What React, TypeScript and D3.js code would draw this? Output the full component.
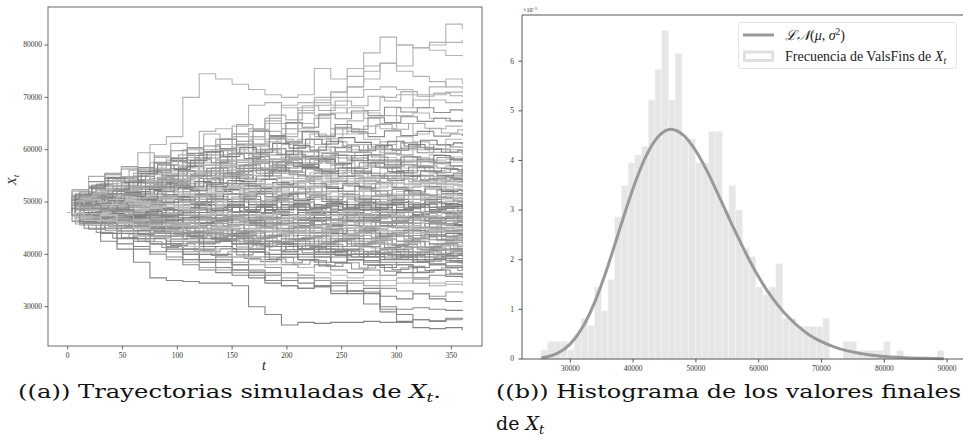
import React from 'react';
import * as d3 from 'd3';

// observation days of the trajectories (four staggered grids)
const daysA = [0, 15, 30, 45, 60, 75, 90, 105, 120, 135, 150, 165, 180, 195, 210, 225, 240, 255, 270, 285, 300, 315, 330, 345, 360];
const daysB = [0, 7, 22, 37, 52, 67, 82, 97, 112, 127, 142, 157, 172, 187, 202, 217, 232, 247, 262, 277, 292, 307, 322, 337, 352, 360];
const daysC = [0, 11, 26, 41, 56, 71, 86, 101, 116, 131, 146, 161, 176, 191, 206, 221, 236, 251, 266, 281, 296, 311, 326, 341, 356, 360];
const daysD = [0, 4, 19, 34, 49, 64, 79, 94, 109, 124, 139, 154, 169, 184, 199, 214, 229, 244, 259, 274, 289, 304, 319, 334, 349, 360];

// trajectories on daysA, values in thousands
const highPaths = [
  [48, 50.5, 52, 54.5, 55.5, 61, 62.5, 70, 74.5, 73.5, 72.5, 71.5, 70.5, 70, 70.5, 75.5, 73.5, 74, 78.5, 81.5, 80, 79.5, 80.5, 84, 83],
  [48, 49, 51, 53, 52.5, 54, 57, 58.5, 59.5, 60, 62.5, 64, 66, 65, 68, 69.5, 70, 75.5, 76, 76.5, 80, 79.5, 79, 78, 77.8],
  [48, 47, 49, 51, 50, 53, 55, 56, 57.5, 59, 61, 63.5, 65, 64, 67, 68.5, 71, 72, 75, 76.5, 76, 79.5, 80, 80.5, 81],
  [48, 51, 53.5, 54, 55, 56, 58.5, 60, 63.5, 64, 63, 62.5, 66, 68.5, 69, 70, 71, 72, 73.5, 76.5, 75, 74, 73, 72, 71.5],
  [48, 49.5, 50.5, 52, 55.5, 56.5, 56, 57.5, 59, 62, 64.5, 68.5, 69, 68, 67.5, 69, 68.5, 70, 71.5, 72, 71.5, 70.5, 70.5, 71, 71.2],
  [48, 50, 51.5, 53, 54, 57.5, 58, 57.5, 60, 61, 63, 64, 65.5, 65, 67, 66.5, 67, 68, 67.5, 70, 70.5, 68, 69.5, 69, 69.5],
  [48, 48.5, 50, 51, 52, 53, 56, 58.5, 59, 62, 63, 62.5, 61.5, 63, 65, 66, 64, 65.5, 67, 66.5, 68, 69.5, 72, 73.5, 72.5],
  [48, 46.5, 48, 50.5, 52, 54, 53.5, 56, 57, 58, 60.5, 62, 63.5, 62.5, 64, 66, 68, 67, 66, 65, 66.5, 67, 66, 65.5, 66],
  [48, 49, 48.5, 50, 51.5, 52, 55, 56, 55.5, 57, 58, 61, 62, 64, 63.5, 62.5, 64, 63, 64.5, 64, 65, 63, 64, 64.5, 64.5],
  [48, 47.5, 49.5, 50.5, 49, 51, 53, 53.5, 55, 57, 56, 58.5, 59.5, 61, 62, 61, 63, 63.5, 62, 61, 62.5, 61.5, 61, 62, 62],
  [48, 50.5, 49.5, 51.5, 53, 54.5, 55, 54.5, 57, 58, 60, 59.5, 60, 59, 60.5, 62, 61.5, 60, 61, 59.5, 60, 60.5, 59.5, 60, 60],
  [48, 49, 51, 50, 51.5, 53, 52.5, 55.5, 56, 55, 57, 57.5, 59, 58, 58.5, 60, 59.5, 61, 60, 61.5, 59, 60, 61, 59.5, 59],
];

const upperPaths = [
  [48, 50, 51.5, 53, 52.5, 54, 53.5, 55, 54.5, 56, 55, 56.5, 57.5, 56.5, 57, 56, 57, 56.5, 55.5, 56.5, 55.5, 56, 55.5, 55.6, 55.3],
  [48, 48.5, 50, 51.5, 51, 52.5, 53.5, 53, 54.5, 55.5, 55, 56.5, 56, 57, 56.5, 57.5, 57, 56, 57, 56.5, 55.5, 56.5, 56, 56.2, 56],
  [48, 51, 52.5, 52, 54, 55.5, 55, 56.5, 56, 57.5, 57, 58, 57.5, 58.5, 57.5, 58, 57, 58, 57, 57.5, 56.5, 57, 56.5, 56.9, 56.7],
  [48, 49.5, 51, 50.5, 52, 53.5, 53, 54.5, 55.5, 55, 56.5, 57.5, 56.5, 58, 57, 58, 59, 58, 57.5, 58.5, 57.5, 58, 57.5, 57.6, 57.3],
  [48, 50, 49.5, 51, 52.5, 54, 55.5, 55, 57, 56.5, 58, 57.5, 59, 58.5, 59.5, 58.5, 59, 58, 59, 58.5, 58, 58.5, 58, 58.2, 58],
  [48, 51.5, 53, 54.5, 54, 56, 55.5, 57, 56.5, 58, 59.5, 59, 60, 59, 60.5, 59.5, 60.5, 59.5, 59, 60, 59, 58.5, 59, 58.6, 58.7],
  [48, 47.5, 48.5, 49.5, 48.5, 50, 49, 50.5, 49.5, 50, 51, 50, 51, 50.5, 51.5, 50.5, 51, 50, 51, 50.5, 51.5, 50.5, 51, 50.8, 50.5],
  [48, 50, 51, 52.5, 51.5, 53, 52, 53.5, 52.5, 52, 53, 52, 52.5, 51.5, 52.5, 51.5, 52, 51, 52, 51.5, 50.5, 51.5, 51, 51.2, 51],
  [48, 48.5, 47.5, 48.5, 49.5, 50.5, 49.5, 50, 51, 50, 51, 52, 51, 51.5, 52.5, 51.5, 52, 51, 52, 51, 52, 51.5, 51, 51.7, 51.5],
  [48, 49.5, 50.5, 51.5, 52.5, 52, 53, 54, 53, 54.5, 53.5, 54, 53, 54, 53, 54.5, 53.5, 53, 54, 53, 52.5, 53, 52.5, 52.2, 52],
  [48, 47, 48, 49, 48.5, 49.5, 50.5, 51.5, 50.5, 51.5, 52.5, 51.5, 52.5, 53.5, 52.5, 53, 54, 53, 52.5, 53.5, 52.5, 53, 52.8, 52.5, 52.5],
  [48, 50.5, 52, 51, 52.5, 54, 53, 54.5, 56, 55, 55.5, 54.5, 55.5, 54.5, 55, 54, 55, 54, 53.5, 54.5, 53.5, 54, 53, 53.3, 53],
  [48, 49, 48.5, 50, 51, 50.5, 52, 51.5, 52.5, 53.5, 52.5, 53.5, 54.5, 53.5, 54, 53, 54, 55, 54, 53.5, 54.5, 53.5, 53.8, 53.4, 53.3],
  [48, 48, 49.5, 49, 50.5, 49.5, 51, 52, 51, 52.5, 53.5, 53, 52, 53, 54, 55, 54, 54.5, 53.5, 54.5, 55, 54, 53.5, 53.9, 53.7],
  [48, 51, 50, 51.5, 53, 52.5, 54, 55, 54.5, 56, 55, 56.5, 55.5, 56, 55, 55.5, 54.5, 55, 54, 55, 54.5, 53.5, 54.5, 54.2, 54],
  [48, 47.5, 49, 50.5, 50, 51.5, 51, 52.5, 53.5, 53, 54, 53.5, 54.5, 55.5, 54.5, 55, 56, 55, 54.5, 55.5, 54.5, 55, 54.5, 54.7, 54.4],
  [48, 49.5, 51, 52, 51.5, 53, 54, 53, 54.5, 55.5, 54.5, 56, 55, 56.5, 57, 56, 55.5, 56.5, 55.5, 55, 56, 55, 54.5, 55, 54.8],
];

const centralPaths = [
  [48, 49, 48, 47, 47.5, 46.5, 47, 46, 47.5, 46.5, 47, 46, 46.5, 45.5, 46, 45, 46, 45.5, 46.5, 45.5, 46, 45, 45.8, 45.5, 45.4],
  [48, 47.5, 49, 48, 49, 48.5, 47.5, 48, 47, 48, 47, 47.5, 46.5, 47, 46, 47, 46.5, 45.5, 46.5, 46, 45.5, 46.5, 46, 45.7, 45.8],
  [48, 50, 49, 50.5, 49.5, 50, 49, 49.5, 48.5, 48, 49, 48, 48.5, 47.5, 48, 47, 47.5, 46.5, 47, 46, 47, 46.5, 46, 46.4, 46.2],
  [48, 46, 47, 46.5, 48, 47, 48.5, 47.5, 46.5, 47, 48, 47, 46, 47.5, 46.5, 45.5, 46.5, 47.5, 46.5, 47, 46, 47, 46.5, 46.8, 46.5],
  [48, 48.5, 50, 51, 50, 51.5, 50.5, 51, 50, 49.5, 50.5, 49.5, 50, 49, 48.5, 49, 48, 48.5, 47.5, 48, 47, 47.5, 46.8, 47, 46.8],
  [48, 47, 46, 45.5, 46.5, 45, 46, 47, 46.5, 47.5, 46.5, 47, 48, 47, 47.5, 46.5, 47.5, 48, 47, 47.5, 46.5, 47.5, 47, 47.3, 47.2],
  [48, 49.5, 51, 50, 51.5, 52, 51, 52.5, 51.5, 50.5, 51, 50, 50.5, 49.5, 50, 49, 49.5, 48.5, 49, 48, 48.5, 47.5, 48, 47.7, 47.5],
  [48, 48, 47, 48.5, 47.5, 49, 48, 48.5, 47.5, 48, 49, 48, 48.5, 47.5, 48.5, 47.5, 48, 47, 48.5, 47.5, 48, 47.5, 48.2, 47.8, 47.9],
  [48, 46.5, 45.5, 44.5, 45.5, 44, 45, 46, 45.5, 46.5, 45.5, 46.5, 47, 46, 47, 48, 47.5, 46.5, 47.5, 48.5, 48, 47.5, 48.5, 48, 48.3],
  [48, 49, 50.5, 52, 53, 52.5, 53.5, 52.5, 53, 52, 51.5, 52, 51, 51.5, 50.5, 51, 50, 50.5, 49.5, 50, 49, 49.5, 48.5, 48.8, 48.6],
  [48, 47.5, 48.5, 47.5, 48.5, 49.5, 48.5, 49, 48, 49, 50, 49, 48.5, 49.5, 48.5, 49, 50, 49, 48.5, 49.5, 48.5, 49.5, 49, 49.2, 49],
  [48, 50, 51.5, 50.5, 52, 51, 50, 51, 50, 49.5, 50.5, 49.5, 48.5, 49.5, 50.5, 49.5, 50, 49, 50, 49.5, 48.5, 49.5, 49, 49.5, 49.3],
  [48, 46, 47.5, 46.5, 47.5, 48.5, 47.5, 48.5, 49.5, 48.5, 49, 48, 49, 50, 49, 49.5, 48.5, 49.5, 50.5, 49.5, 50, 49, 49.8, 49.5, 49.7],
  [48, 49, 48, 49.5, 50.5, 49.5, 51, 50, 50.5, 49.5, 50.5, 51.5, 50.5, 51, 50, 51, 50, 50.5, 49.5, 50.5, 49.5, 50.5, 50, 50.2, 50],
  [48, 47, 45.5, 46, 44.5, 45, 43.5, 44, 42.5, 43, 42, 42.5, 41.5, 42, 41, 41.5, 40.5, 41, 40, 41, 40.5, 40, 40.8, 40.2, 40],
  [48, 49.5, 50, 48.5, 47, 47.5, 46, 45, 45.5, 44, 44.5, 43, 43.5, 42.5, 43, 42, 42.5, 41.5, 42, 41, 41.5, 40.5, 41, 40.8, 40.5],
  [48, 46.5, 47, 45.5, 46, 44.5, 45, 44, 43.5, 44.5, 43, 43.5, 42.5, 43, 42, 42.5, 41.5, 42.5, 41.5, 42, 41, 41.5, 41.2, 41, 41],
  [48, 48.5, 47.5, 48, 46.5, 47, 45.5, 46, 45, 44.5, 45.5, 44, 44.5, 43.5, 44, 43, 43.5, 42.5, 43, 42, 42.5, 41.5, 42, 41.8, 41.5],
  [48, 50, 51, 50, 49, 49.5, 48, 48.5, 47, 46.5, 47, 45.5, 46, 45, 45.5, 44, 44.5, 43.5, 44, 43, 43.5, 42.5, 42, 42.3, 42],
  [48, 47.5, 48.5, 47, 47.5, 46, 46.5, 45.5, 46, 45, 44, 44.5, 43.5, 44, 43, 43.5, 42.5, 43, 44, 43, 42.5, 43, 42.8, 42.6, 42.5],
  [48, 49, 47.5, 48.5, 49, 47.5, 48, 46.5, 47, 46, 46.5, 45, 45.5, 44.5, 45, 44, 44.5, 43.5, 44, 43, 43.5, 44, 43.5, 43.2, 43],
  [48, 46, 45, 46.5, 45.5, 44, 44.5, 43, 44, 43.5, 42.5, 43, 42, 43, 42.5, 43.5, 43, 42, 43, 44, 43.5, 43, 43.8, 43.5, 43.3],
  [48, 48, 49.5, 48.5, 47, 47.5, 46.5, 47, 46, 46.5, 45.5, 46, 45, 45.5, 44.5, 45, 44, 45, 44.5, 43.5, 44, 44.5, 43.5, 44, 43.7],
  [48, 50.5, 49.5, 51, 50, 49, 49.5, 48.5, 47.5, 48, 47, 47.5, 46.5, 47, 46, 45.5, 46, 45, 45.5, 44.5, 45, 44, 44.5, 44.2, 44],
  [48, 47, 46.5, 47.5, 46.5, 45.5, 46, 45.5, 46.5, 45, 45.5, 44.5, 45, 44, 45, 44.5, 43.5, 44, 45, 44.5, 44, 45, 44.5, 44.6, 44.3],
  [48, 49.5, 48.5, 47.5, 48, 47, 47.5, 48, 47, 46.5, 47.5, 46.5, 46, 45.5, 46, 45, 45.5, 44.5, 45, 45.5, 44.5, 45, 44.8, 44.5, 44.6],
  [48, 46.5, 47.5, 46, 45, 45.5, 44.5, 45.5, 44.5, 45, 46, 45, 44.5, 45.5, 44.5, 45, 46, 45, 45.5, 44.5, 45.5, 45, 44.8, 45.2, 45],
];

const lowPaths = [
  [48, 46, 44, 42, 41.5, 40.5, 41, 40, 38.5, 39, 38, 39.5, 39, 38, 37.5, 38, 37, 36.5, 37, 36, 36.5, 35.5, 36, 35.8, 35.5],
  [48, 49.5, 48, 46.5, 45.5, 44, 44.5, 43, 42, 42.5, 41, 40.5, 41.5, 40, 39.5, 40, 38.5, 39, 38, 37.5, 38, 36.5, 37, 36.2, 36],
  [48, 47, 48.5, 47, 45, 45.5, 44, 43.5, 44, 42.5, 42, 41, 41.5, 40.5, 41, 39.5, 40, 39, 39.5, 38.5, 38, 37.5, 38, 37.5, 37],
  [48, 50, 49, 48, 47.5, 46.5, 47, 45.5, 44.5, 45, 43.5, 44, 42.5, 42, 41, 41.5, 40.5, 40, 39.5, 40, 39, 38.5, 38, 37.8, 37.5],
  [48, 46.5, 45.5, 46, 44, 43.5, 42, 42.5, 41, 41.5, 40.5, 41, 40, 39.5, 39, 39.5, 38.5, 39, 38.8, 38, 38.5, 39, 38.2, 38.5, 38],
  [48, 48.5, 47, 45, 44.5, 45, 43.5, 44, 43, 42.5, 43, 42, 41.5, 40.5, 40, 41, 40.5, 39.5, 40, 39, 39.5, 38.5, 39, 38.8, 38.5],
  [48, 47.5, 46, 44.5, 43, 43.5, 42, 41, 41.5, 40, 39.5, 40.5, 39.5, 40, 39, 38.5, 39.5, 39, 38.5, 40, 39.5, 39, 39.5, 39.2, 39],
  [48, 49, 48, 47.5, 46, 46.5, 45, 44, 44.5, 43, 43.5, 42, 42.5, 41.5, 41, 40.5, 41, 40, 40.5, 39.5, 40, 39.5, 40, 39.8, 39.5],
  [48, 45, 42.5, 41, 38.5, 35.5, 35, 34.8, 34.5, 34.5, 34, 30, 28.5, 26.5, 27, 26.8, 27, 27, 27.2, 27, 27.2, 27.5, 27.3, 27.5, 27.5],
  [48, 47, 46, 44.5, 43, 42, 41.5, 40, 39, 38.5, 37, 36.5, 35, 34, 33.5, 34, 33, 32.5, 30.5, 29, 27, 26, 25.8, 26, 25.5],
  [48, 46, 44, 43, 41, 40, 39.5, 38, 37, 37.5, 36, 35.5, 36, 35, 34.5, 33.8, 34, 33, 32.5, 30, 29.5, 29.8, 29.5, 29.3, 29.4],
  [48, 47.5, 45, 44, 42.5, 42, 40.5, 39, 38.5, 36.5, 37, 36, 34.5, 34, 33.5, 33.8, 32.5, 33, 33.5, 32, 31.5, 32.5, 31.5, 31, 31],
  [48, 49, 47, 46, 44.5, 43, 42.5, 41, 40, 39.5, 38, 37, 36.5, 35, 35.5, 34, 34.5, 33, 32.8, 29.5, 28.5, 27.5, 27.2, 27.8, 27.5],
  [48, 46.5, 45.5, 45, 43.5, 42, 41.5, 40.5, 40.8, 39, 38.5, 38, 37.5, 36.5, 36, 35, 34.5, 35, 34, 33.5, 33, 32.5, 32, 32.8, 32.5],
  [48, 49, 47.5, 46, 45, 44, 43, 41.5, 40.5, 41, 39.5, 39, 38, 38.5, 37.5, 36.5, 36, 35.5, 36, 35, 34.5, 35.2, 34.5, 34.8, 34.5],
  [48, 47, 45.5, 44.5, 43.5, 40, 39, 38.5, 37.5, 37, 36.5, 36.8, 36, 35.5, 36, 35.5, 35, 34.5, 35, 34, 35.5, 34.5, 34, 34.3, 34],
];

// trajectories on daysB
const bandPathsB = [
  [48, 46.8, 45.9, 46.4, 45.1, 44.6, 45.3, 43.8, 43.2, 43.9, 42.7, 42.1, 41.4, 42.3, 41.6, 40.9, 41.8, 40.6, 40.1, 40.7, 39.8, 40.4, 39.5, 39.9, 39.2, 39],
  [48, 49.1, 47.6, 47.9, 46.7, 46.2, 44.9, 45.4, 44.3, 44.8, 43.6, 44.1, 43.2, 42.4, 42.9, 41.7, 42.3, 41.5, 42.1, 41.2, 40.6, 41.3, 40.8, 40.2, 40.7, 40.5],
  [48, 47.3, 48.1, 46.5, 45.8, 46.4, 45.2, 44.5, 45.1, 44, 43.4, 44.2, 43.1, 43.6, 42.8, 43.3, 42.2, 42.9, 41.8, 42.4, 41.6, 42.2, 41.3, 41.9, 41.4, 41.5],
  [48, 50.2, 49.3, 48.4, 49.1, 47.8, 47.2, 46.5, 47.1, 46, 45.4, 46.1, 45.2, 44.6, 45.3, 44.1, 44.7, 43.6, 44.2, 43.3, 43.8, 42.9, 43.5, 42.6, 42.9, 42.5],
  [48, 46.2, 47, 45.6, 46.3, 45.1, 45.8, 44.6, 45.3, 44.2, 44.9, 43.8, 44.5, 43.4, 44.1, 43.2, 43.9, 42.8, 43.6, 42.7, 43.4, 42.6, 43.3, 42.8, 43.2, 43],
  [48, 48.7, 47.4, 48.2, 46.9, 47.6, 46.4, 47.1, 45.9, 46.6, 45.5, 46.2, 45.1, 45.7, 44.6, 45.4, 44.3, 45, 44.1, 44.8, 43.9, 44.5, 43.7, 44.3, 43.6, 43.8],
  [48, 45.8, 46.6, 45.3, 46.1, 44.7, 45.5, 44.2, 45, 43.9, 44.7, 43.6, 44.4, 43.5, 44.3, 45.1, 44.2, 45, 44.1, 44.9, 43.9, 44.8, 44.1, 44.9, 44.3, 44.5],
  [48, 49.6, 48.6, 49.4, 48.2, 49, 47.7, 48.4, 47.2, 47.9, 46.8, 47.5, 46.4, 47.1, 46, 46.8, 45.7, 46.4, 45.4, 46.1, 45.2, 45.9, 44.9, 45.6, 44.8, 45],
  [48, 47.1, 46.3, 47.2, 46.5, 45.7, 46.6, 45.9, 45.2, 46.1, 45.4, 46.3, 45.6, 46.5, 45.8, 46.7, 45.9, 46.8, 46, 45.3, 46.2, 45.5, 46.4, 45.7, 46.1, 45.8],
  [48, 50.8, 51.5, 50.4, 51.2, 49.9, 50.6, 49.4, 50.1, 48.8, 49.5, 48.3, 49, 47.9, 48.6, 47.5, 48.2, 47.1, 47.8, 46.8, 47.4, 46.5, 47.2, 46.4, 46.9, 46.3],
  [48, 47.6, 48.5, 47.7, 48.6, 47.8, 48.7, 47.9, 48.8, 48, 47.2, 48.1, 47.3, 48.2, 47.4, 48.3, 47.5, 48.4, 47.6, 46.8, 47.7, 46.9, 47.8, 47.1, 47.5, 47],
  [48, 46.4, 45.5, 46.3, 45.1, 45.9, 44.8, 45.7, 46.6, 45.8, 46.7, 47.6, 46.8, 47.7, 46.9, 47.8, 48.7, 47.9, 48.8, 48, 47.2, 48.1, 47.3, 48.2, 47.5, 47.6],
  [48, 49.3, 50.4, 49.5, 50.6, 49.7, 50.8, 49.9, 51, 50.1, 49.2, 50.2, 49.3, 50.3, 49.4, 48.5, 49.5, 48.6, 49.6, 48.7, 49.7, 48.8, 47.9, 48.9, 48.1, 48.2],
  [48, 47.7, 46.9, 47.8, 47, 47.9, 48.8, 48, 48.9, 48.1, 49, 48.2, 49.1, 48.3, 49.2, 48.4, 49.3, 48.5, 49.4, 48.6, 49.5, 48.7, 49.6, 48.8, 49.1, 48.8],
  [48, 50.1, 51.8, 52.6, 51.7, 52.8, 51.9, 53, 52.1, 51.2, 52.2, 51.3, 52.3, 51.4, 50.5, 51.5, 50.6, 51.6, 50.7, 49.8, 50.8, 49.9, 50.9, 50, 49.6, 49.4],
  [48, 48.5, 49.4, 48.6, 49.5, 50.4, 49.6, 50.5, 49.7, 50.6, 51.5, 50.7, 51.6, 50.8, 51.7, 50.9, 50.1, 51, 50.2, 51.1, 50.3, 51.2, 50.4, 50.9, 50.2, 50],
  [48, 46.9, 47.8, 48.7, 47.9, 48.8, 49.7, 48.9, 49.8, 49, 49.9, 50.8, 50, 50.9, 50.1, 51, 51.9, 51.1, 52, 51.2, 50.4, 51.3, 50.5, 51.4, 50.6, 50.7],
  [48, 50.5, 49.6, 50.7, 51.8, 50.9, 52, 51.1, 52.2, 53.3, 52.4, 53.5, 52.6, 53.7, 52.8, 51.9, 52.9, 52, 53, 52.1, 51.2, 52.2, 51.3, 52.3, 51.6, 51.4],
  [48, 48.9, 50, 49.1, 50.2, 51.3, 50.4, 51.5, 52.6, 51.7, 52.8, 51.9, 53, 52.1, 53.2, 54.3, 53.4, 54.5, 53.6, 52.7, 53.7, 52.8, 53.8, 52.9, 52.4, 52.2],
  [48, 47.3, 48.4, 49.5, 50.6, 49.7, 50.8, 51.9, 51, 52.1, 53.2, 52.3, 53.4, 52.5, 53.6, 52.7, 53.8, 54.9, 54, 55.1, 54.2, 53.3, 54.3, 53.4, 53.2, 53],
  [48, 51.2, 52.5, 51.6, 52.7, 53.8, 52.9, 54, 55.1, 54.2, 55.3, 56.4, 55.5, 56.6, 55.7, 54.8, 55.8, 54.9, 55.9, 55, 54.1, 55.1, 54.2, 54.8, 54.3, 54],
  [48, 49.7, 48.8, 50.3, 51.4, 50.5, 52, 53.1, 52.2, 53.7, 54.8, 53.9, 55, 56.1, 55.2, 56.3, 55.4, 56.5, 55.6, 56.7, 55.8, 54.9, 55.9, 55.1, 55.4, 55],
  [48, 50.3, 51.6, 53, 52.1, 53.6, 54.7, 53.8, 55.3, 56.4, 55.5, 57, 58.1, 57.2, 58.3, 57.4, 58.5, 57.6, 56.7, 57.7, 56.8, 57.8, 56.9, 56.5, 56.8, 56.3],
  [48, 49.2, 50.7, 52.2, 51.3, 52.8, 54.3, 53.4, 54.9, 56.4, 55.5, 57, 56.1, 57.6, 59.1, 58.2, 59.3, 58.4, 59.5, 58.6, 57.7, 58.7, 57.8, 58.5, 58, 57.8],
  [48, 51.5, 53.2, 54.6, 53.7, 55.4, 57.1, 56.2, 57.9, 59.6, 58.7, 60.4, 59.5, 61.2, 60.3, 62, 61.1, 62.3, 61.4, 60.5, 61.6, 60.7, 61.8, 60.9, 61.3, 61],
];

// trajectories on daysC
const bandPathsC = [
  [48, 45.6, 44.2, 43.1, 43.9, 42.4, 41.3, 42, 40.6, 39.8, 40.5, 39.2, 38.6, 39.4, 38.1, 38.8, 37.7, 38.4, 37.4, 38, 37.1, 37.7, 36.9, 37.4, 36.9, 36.8],
  [48, 49.2, 47.5, 46.1, 46.8, 45.3, 44.4, 45.1, 43.7, 42.9, 43.6, 42.3, 41.6, 42.2, 40.9, 41.5, 40.3, 40.9, 39.6, 40.2, 39.1, 39.8, 38.7, 39.3, 38.4, 38.2],
  [48, 46.9, 47.6, 46.2, 45.4, 46, 44.6, 43.9, 44.5, 43.2, 43.9, 42.6, 43.2, 41.9, 42.5, 41.3, 41.9, 40.8, 41.4, 40.3, 40.9, 39.9, 40.5, 39.6, 40, 39.7],
  [48, 50.1, 49, 49.7, 48.3, 47.4, 48, 46.6, 45.8, 46.4, 45, 45.6, 44.3, 44.9, 43.6, 44.2, 43, 43.6, 42.5, 43.1, 41.9, 42.5, 41.3, 41.8, 41, 40.8],
  [48, 47.2, 45.9, 46.7, 45.4, 46.1, 44.8, 45.5, 44.2, 44.9, 43.7, 44.4, 43.2, 43.9, 42.8, 43.5, 42.4, 43.1, 42, 42.7, 41.7, 42.4, 41.5, 42.1, 41.6, 41.8],
  [48, 48.4, 49.3, 48.1, 47.2, 47.9, 46.7, 45.9, 46.6, 45.4, 46.1, 44.9, 45.6, 44.5, 45.2, 44.1, 44.8, 43.7, 44.4, 43.4, 44.1, 43.1, 43.8, 42.9, 43.2, 42.8],
  [48, 46.4, 47.3, 46, 46.8, 45.6, 46.4, 45.2, 46, 44.9, 45.7, 44.6, 45.4, 44.3, 45.1, 44.1, 44.9, 43.9, 44.7, 43.7, 44.5, 43.6, 44.3, 43.4, 43.8, 43.5],
  [48, 50.6, 51.7, 50.5, 49.4, 50.1, 48.9, 47.9, 48.6, 47.5, 48.2, 47.1, 47.8, 46.8, 46, 46.7, 45.7, 46.4, 45.5, 46.2, 45.2, 44.5, 45.1, 44.3, 44.7, 44.2],
  [48, 47.4, 48.3, 47.1, 47.9, 46.8, 47.6, 46.5, 47.3, 46.3, 47.1, 46.1, 46.9, 45.9, 46.7, 45.7, 46.5, 45.6, 46.3, 45.4, 46.1, 45.2, 45.9, 45.1, 45.3, 44.9],
  [48, 45.9, 46.8, 45.5, 46.4, 47.3, 46.1, 47, 45.9, 46.8, 45.7, 46.6, 45.5, 46.4, 45.4, 46.3, 45.3, 46.2, 45.2, 46.1, 45.1, 46, 45.2, 45.9, 45.3, 45.5],
  [48, 49.4, 48.2, 49.1, 47.9, 48.8, 47.7, 48.6, 47.5, 48.4, 47.3, 48.2, 47.1, 48, 47, 47.8, 46.8, 47.6, 46.7, 47.5, 46.5, 47.3, 46.4, 47, 46.2, 46],
  [48, 46.7, 45.8, 46.6, 45.4, 46.3, 45.2, 46.1, 47, 45.9, 46.8, 45.8, 46.7, 47.6, 46.6, 47.5, 46.5, 47.4, 46.4, 47.3, 46.3, 47.2, 46.3, 47.1, 46.5, 46.6],
  [48, 48.9, 50.1, 49.2, 50.2, 49.1, 50, 48.9, 49.8, 48.7, 49.6, 48.5, 49.4, 48.4, 49.3, 48.2, 49.1, 48.1, 49, 48, 47.2, 48, 47.1, 47.9, 47.2, 47.3],
  [48, 47.1, 47.9, 46.9, 47.8, 48.7, 47.7, 48.6, 47.6, 48.5, 47.5, 48.4, 47.5, 48.4, 47.4, 48.3, 47.4, 48.3, 47.3, 48.2, 47.3, 48.2, 47.4, 48.3, 47.7, 47.9],
  [48, 49.9, 51.2, 50.2, 51.3, 50.3, 51.4, 50.4, 51.5, 50.5, 49.5, 50.5, 49.6, 50.6, 49.7, 48.8, 49.8, 48.9, 49.9, 49, 48.1, 49.1, 48.2, 49, 48.3, 48.5],
  [48, 46.2, 47.1, 48.1, 47.2, 48.2, 47.3, 48.3, 49.3, 48.4, 49.4, 48.5, 49.5, 48.6, 49.6, 48.7, 49.7, 48.8, 49.8, 48.9, 49.9, 49, 50, 49.2, 49.5, 49.1],
  [48, 48.7, 49.7, 48.8, 49.8, 50.8, 49.9, 50.9, 50, 51, 50.1, 51.1, 50.2, 51.2, 50.3, 51.3, 50.4, 51.4, 50.5, 49.6, 50.5, 49.6, 50.5, 49.7, 50, 49.8],
  [48, 50.9, 52.3, 51.3, 52.4, 53.5, 52.5, 53.6, 52.6, 53.7, 52.7, 51.8, 52.8, 51.9, 52.9, 52, 51.1, 52.1, 51.2, 52.2, 51.3, 50.5, 51.4, 50.6, 50.8, 50.4],
  [48, 47.6, 48.7, 49.8, 48.9, 50, 51.1, 50.2, 51.3, 50.4, 51.5, 52.6, 51.7, 52.8, 51.9, 53, 52.1, 53.2, 52.3, 51.4, 52.4, 51.5, 52.5, 51.6, 51.3, 51.1],
  [48, 49.5, 50.8, 52.1, 51.1, 52.4, 51.4, 52.7, 53.9, 52.9, 54.1, 53.1, 54.3, 53.3, 54.5, 53.5, 52.6, 53.6, 52.7, 53.7, 52.8, 51.9, 52.9, 52, 52.3, 51.9],
  [48, 47.9, 49.2, 50.5, 49.6, 50.9, 52.2, 51.3, 52.6, 51.7, 53, 54.3, 53.4, 54.7, 53.8, 55.1, 54.2, 53.3, 54.4, 53.5, 52.6, 53.6, 52.7, 53.5, 52.9, 52.7],
  [48, 50.7, 52.1, 53.5, 52.5, 53.9, 55.3, 54.3, 55.7, 54.7, 56.1, 55.1, 56.5, 55.5, 54.5, 55.6, 54.6, 55.7, 54.7, 53.8, 54.8, 53.9, 54.9, 54, 53.8, 53.6],
  [48, 49.3, 50.8, 52.3, 53.8, 52.9, 54.4, 55.9, 55, 56.5, 55.6, 57.1, 56.2, 57.7, 56.8, 58.3, 57.4, 56.5, 57.5, 56.6, 55.7, 56.7, 55.8, 56.4, 55.9, 55.6],
  [48, 51.9, 53.4, 52.5, 54.2, 55.9, 55, 56.7, 58.4, 57.5, 59.2, 58.3, 60, 59.1, 60.8, 59.9, 61.6, 60.7, 59.8, 60.8, 59.9, 61, 60.1, 59.5, 59.9, 59.6],
  [48, 50.4, 52.3, 54.2, 56.1, 55.2, 57.1, 59, 58.1, 60, 59.1, 61, 60.1, 62, 61.1, 63, 62.1, 64, 63.1, 64.8, 63.9, 65, 64.1, 63.2, 63.8, 63.5],
];

// trajectories on daysD (edges of the band)
const edgePathsD = [
  [48, 46.3, 44.8, 45.5, 43.2, 42.5, 43.1, 41.7, 42.2, 40.5, 41.1, 39.9, 40.4, 39.1, 38.4, 39, 37.8, 38.3, 37.2, 37.9, 36.8, 37.4, 36.6, 37, 36.4, 36.5],
  [48, 49.4, 47.8, 46.5, 47.2, 45.7, 44.3, 44.9, 43.4, 44, 42.6, 43.3, 41.8, 42.4, 40.9, 41.6, 40.3, 40.8, 39.5, 40.2, 39.1, 39.7, 38.6, 39.2, 38.7, 38.8],
  [48, 47.5, 46.1, 44.6, 45.3, 43.8, 44.4, 42.9, 43.6, 42.2, 42.8, 41.4, 42.1, 40.8, 41.5, 40.3, 41, 39.8, 40.6, 39.6, 40.4, 39.5, 40.3, 39.9, 40.5, 40.2],
  [48, 50.3, 48.9, 47.6, 48.1, 46.5, 45.2, 45.8, 44.4, 45, 43.7, 44.3, 43, 43.7, 42.5, 43.2, 42, 42.7, 41.6, 42.3, 41.3, 41.9, 41, 41.6, 41.1, 41.2],
  [48, 51.3, 52.8, 54.1, 53.2, 54.9, 56.3, 55.4, 56.8, 55.9, 57.3, 56.4, 57.8, 56.9, 55.9, 56.8, 55.7, 56.5, 55.4, 54.6, 55.5, 54.4, 55.1, 54.2, 54.5, 53.8],
  [48, 49.8, 51.4, 53, 52.1, 53.7, 52.8, 54.4, 56, 55.1, 56.7, 55.8, 57.4, 56.5, 58.1, 57.2, 56.3, 57.3, 56.4, 57.4, 56.5, 55.6, 56.6, 55.7, 56.2, 55.8],
  [48, 47.4, 49.2, 51, 50.1, 51.9, 53.7, 52.8, 54.6, 53.7, 55.5, 54.6, 56.4, 55.5, 57.3, 56.4, 58.2, 57.3, 58.4, 57.5, 56.6, 57.7, 56.8, 57.6, 56.9, 57],
  [48, 52.1, 53.9, 55.2, 56.8, 55.8, 57.4, 56.4, 58, 57, 58.6, 57.6, 59.2, 58.2, 59.8, 58.8, 57.8, 58.9, 57.9, 59, 58, 57.1, 58.2, 57.3, 58.1, 57.9],
  [48, 49.9, 51.5, 50.6, 52.4, 54.2, 53.3, 55.1, 56.9, 56, 57.8, 56.9, 58.7, 57.8, 59.6, 58.7, 60.5, 59.6, 61, 60.1, 59.2, 60.3, 59.4, 60.1, 59.5, 59.3],
  [48, 50.8, 53, 55.5, 54.6, 56.6, 55.7, 57.7, 59.3, 58.4, 60.2, 59.3, 61.1, 60.2, 58.6, 59.7, 58.8, 60.4, 59.5, 61, 60.1, 61.3, 60.4, 61, 60.5, 60.3],
  [48, 51.1, 52.7, 54.5, 56.3, 55.4, 57.6, 59.8, 58.9, 60.7, 59.8, 61.6, 60.7, 62.5, 61.6, 63.4, 62.5, 64.3, 63.4, 62.5, 63.6, 62.7, 63.5, 62.6, 63, 62.6],
  [48, 49.4, 51.2, 53, 54.8, 53.9, 56.1, 58.3, 57.4, 59.6, 58.7, 60.9, 60, 62.2, 61.3, 63.5, 62.6, 64.8, 63.9, 66.1, 65.2, 66.3, 65.4, 66, 65.5, 65.2],
  [48, 50.5, 52.6, 54.7, 53.8, 56.3, 58.8, 57.9, 60.4, 59.5, 62, 61.1, 63.6, 62.7, 65.2, 64.3, 66.8, 65.9, 67.4, 66.5, 68.1, 67.2, 68, 67.1, 67.6, 67.3],
  [48, 52.4, 54.9, 54, 56.7, 59.4, 58.5, 61.2, 60.3, 63, 62.1, 64.8, 63.9, 66.6, 65.7, 68.4, 67.5, 69.3, 68.4, 70.2, 69.3, 71.1, 70.2, 70.8, 70.3, 70.1],
  [48, 48.8, 50.4, 49.5, 51.3, 50.4, 52.2, 53.8, 52.9, 54.5, 53.6, 55.2, 54.3, 55.9, 57.5, 56.6, 58.2, 57.3, 58.9, 58, 57.1, 58.6, 57.7, 58.9, 58.2, 58.5],
];

// histogram of final values: 60 bins between these limits, densities in units of 1e-5
const histLo = 25300;
const histHi = 89500;
const histDensity = [
  0.18, 0.35, 0.35, 0.35, 0.18, 0.5, 0.82, 0.67, 1.45, 0.97,
  1.6, 2.86, 3.49, 3.95, 4.11, 4.28, 5.22, 5.83, 6.62, 5.22,
  6.15, 4.43, 4.43, 3.95, 3.95, 4.58, 4.58, 3.0, 3.49, 3.0,
  2.23, 2.06, 1.45, 1.29, 1.45, 1.92, 0.82, 0.82, 0.65, 0.65,
  0.65, 0.65, 0.82, 0, 0, 0.35, 0.35, 0.17, 0.17, 0.17,
  0.17, 0.35, 0, 0.17, 0, 0, 0, 0, 0, 0.17,
];

// fitted lognormal density (x in thousands, y in 1e-5)
const pdfX = [25.4, 26, 28, 30, 32, 34, 36, 38, 40, 42, 44, 46, 48, 50, 52, 54, 56, 58, 60, 62, 64, 66, 68, 70, 72, 74, 76, 78, 80, 82, 84, 86, 88, 89.5];
const pdfY = [0.025, 0.037, 0.118, 0.304, 0.648, 1.18, 1.88, 2.67, 3.44, 4.07, 4.48, 4.63, 4.51, 4.19, 3.73, 3.19, 2.64, 2.12, 1.65, 1.26, 0.94, 0.69, 0.49, 0.35, 0.244, 0.168, 0.115, 0.077, 0.052, 0.034, 0.0225, 0.0147, 0.0096, 0.007];

const xTicksA = [0, 50, 100, 150, 200, 250, 300, 350];
const yTicksA = [30000, 40000, 50000, 60000, 70000, 80000];
const xTicksB = [30000, 40000, 50000, 60000, 70000, 80000, 90000];
const yTicksB = [0, 1, 2, 3, 4, 5, 6];

const lineGrays = ['#7c7c7c', '#ababab', '#8e8e8e', '#bdbdbd', '#999999', '#858585', '#b3b3b3'];
const serif = '"Liberation Serif", "DejaVu Serif", serif';
const capFont = '"DejaVu Serif", serif';

function TrajectoryPanel() {
  const x = d3.scaleLinear().domain([-18, 378]).range([48, 482]);
  const y = d3.scaleLinear().domain([22486, 87265]).range([346, 7]);
  const lineOn = (days: number[]) => d3.line<number>()
    .x((_, i) => x(days[i]))
    .y(v => y(v * 1000))
    .curve(d3.curveStepAfter);

  // interleave the groups so the shades mix in the band
  const groups: [number[][], number[]][] = [
    [centralPaths, daysA], [bandPathsB, daysB], [edgePathsD, daysD], [upperPaths, daysA],
    [bandPathsC, daysC], [lowPaths, daysA], [highPaths, daysA],
  ];
  const ordered: { p: number[]; days: number[] }[] = [];
  const n = d3.max(groups, g => g[0].length) || 0;
  for (let i = 0; i < n; i++) {
    groups.forEach(([g, days]) => { if (g[i]) ordered.push({ p: g[i], days }); });
  }

  return (
    <g>
      <defs>
        <clipPath id="clipA"><rect x={48} y={7} width={434} height={339} /></clipPath>
      </defs>
      <g clipPath="url(#clipA)">
        {ordered.map((o, i) => (
          <path key={i} d={lineOn(o.days)(o.p) || ''} fill="none" stroke={lineGrays[i % lineGrays.length]} strokeWidth={1.1} />
        ))}
      </g>
      <rect x={48} y={7} width={434} height={339} fill="none" stroke="#6a6a6a" strokeWidth={1} />
      {xTicksA.map(t => (
        <g key={t} transform={`translate(${x(t)},346)`}>
          <line y2={3.5} stroke="#666" />
          <text y={12} textAnchor="middle" fontSize={7.5} fontFamily={serif} fill="#333">{t}</text>
        </g>
      ))}
      {yTicksA.map(t => (
        <g key={t} transform={`translate(48,${y(t)})`}>
          <line x2={-3.5} stroke="#666" />
          <text x={-6} dy="0.32em" textAnchor="end" fontSize={7.5} fontFamily={serif} fill="#333">{t}</text>
        </g>
      ))}
      <text x={264} y={370} textAnchor="middle" fontSize={14} fontStyle="italic" fontFamily={serif} fill="#222">t</text>
      <text transform="translate(16,180) rotate(-90)" textAnchor="middle" fontSize={13} fontStyle="italic" fontFamily={serif} fill="#222">
        X<tspan fontSize={9} dy={3}>t</tspan>
      </text>
    </g>
  );
}

function HistogramPanel() {
  const x = d3.scaleLinear().domain([22300, 92700]).range([522, 964]);
  const y = d3.scaleLinear().domain([0, 6.93]).range([359, 15]);
  const bw = (histHi - histLo) / histDensity.length;
  const curve = d3.line<number>()
    .x((_, i) => x(pdfX[i] * 1000))
    .y(v => y(v))
    .curve(d3.curveMonotoneX);

  return (
    <g>
      {histDensity.map((d, i) => {
        const x0 = x(histLo + i * bw);
        const x1 = x(histLo + (i + 1) * bw);
        return d > 0 ? (
          <rect key={i} x={x0} y={y(d)} width={x1 - x0} height={y(0) - y(d)} fill="#e6e6e6" stroke="#f3f3f3" strokeWidth={0.6} />
        ) : null;
      })}
      <path d={curve(pdfY) || ''} fill="none" stroke="#999" strokeWidth={3} />
      <line x1={522} x2={964} y1={359} y2={359} stroke="#555" />
      <line x1={522} x2={522} y1={15} y2={359} stroke="#555" />
      <line x1={522} x2={964} y1={15} y2={15} stroke="#555" />
      {xTicksB.map(t => (
        <g key={t} transform={`translate(${x(t)},359)`}>
          <line y2={3.5} stroke="#555" />
          <text y={12} textAnchor="middle" fontSize={7.5} fontFamily={serif} fill="#333">{t}</text>
        </g>
      ))}
      {yTicksB.map(t => (
        <g key={t} transform={`translate(522,${y(t)})`}>
          <line x2={-3.5} stroke="#555" />
          <text x={-8} dy="0.32em" textAnchor="end" fontSize={7.5} fontFamily={serif} fill="#333">{t}</text>
        </g>
      ))}
      <text x={523} y={12} fontSize={6} fontFamily={serif} fill="#222">×10<tspan fontSize={4.5} dy={-2.5}>−5</tspan></text>
      {/* legend */}
      <rect x={738.5} y={22.5} width={218} height={46} rx={2.5} fill="#fff" fillOpacity={0.8} stroke="#ddd" strokeWidth={0.8} />
      <line x1={743} x2={774} y1={35} y2={35} stroke="#999" strokeWidth={3} />
      <text x={785} y={40} fontSize={14} fontFamily={serif} fill="#222">
        <tspan fontStyle="italic">ℒ𝒩</tspan>(<tspan fontStyle="italic">μ</tspan>, <tspan fontStyle="italic">σ</tspan><tspan fontSize={9.5} dy={-5}>2</tspan><tspan dy={5}>)</tspan>
      </text>
      <rect x={744.5} y={52} width={28} height={8.5} fill="#fff" stroke="#e0e0e0" strokeWidth={3} />
      <text x={785} y={60.5} fontSize={14} fontFamily={serif} fill="#222">
        Frecuencia de ValsFins de <tspan fontStyle="italic">X</tspan><tspan fontStyle="italic" fontSize={10} dy={3}>t</tspan>
      </text>
    </g>
  );
}

export default function App() {
  return (
    <svg width={963} height={440} viewBox="0 0 963 440" style={{ display: 'block', position: 'absolute', left: 0, top: 0, background: '#fff' }}>
      <rect width={963} height={440} fill="#fff" />
      <TrajectoryPanel />
      <HistogramPanel />
      <text x={18} y={398} fontSize={19} fontFamily={capFont} fill="#111" textLength={423} lengthAdjust="spacingAndGlyphs">
        ((a)) Trayectorias simuladas de <tspan fontStyle="italic">X</tspan><tspan fontStyle="italic" fontSize={13} dy={4}>t</tspan><tspan dy={-4}>.</tspan>
      </text>
      <text x={496} y={398} fontSize={19} fontFamily={capFont} fill="#111" textLength={465} lengthAdjust="spacingAndGlyphs">
        ((b)) Histograma de los valores finales
      </text>
      <text x={496} y={430} fontSize={19} fontFamily={capFont} fill="#111">
        de <tspan fontStyle="italic">X</tspan><tspan fontStyle="italic" fontSize={13} dy={4}>t</tspan>
      </text>
    </svg>
  );
}
